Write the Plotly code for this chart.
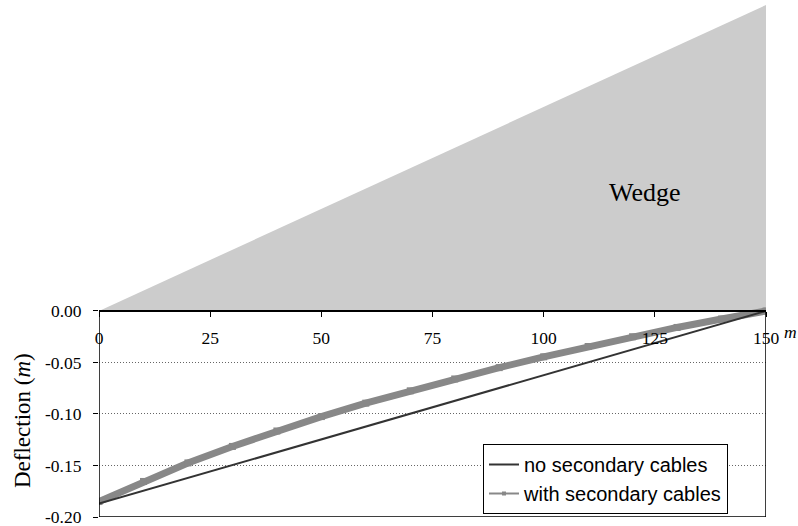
import plotly.graph_objects as go

# ---- data ----
x_no = [0, 150]
y_no = [-0.187, 0.0]

x_with = [0, 10, 20, 30, 40, 50, 60, 70, 80, 90, 100, 110, 120, 130, 140, 150]
y_with = [-0.185, -0.1655, -0.1475, -0.1315, -0.1165, -0.1025, -0.0895, -0.0775,
          -0.066, -0.055, -0.0445, -0.0345, -0.025, -0.016, -0.0078, 0.0]

wedge_x = [0, 150, 150]
wedge_y = [0.0, 0.297, 0.0]

x_ticks = [0, 25, 50, 75, 100, 125, 150]
y_ticks = [0.0, -0.05, -0.10, -0.15, -0.20]
y_ticklabels = ["0.00", "-0.05", "-0.10", "-0.15", "-0.20"]

y_min, y_max = -0.2, 0.297
serif = "Liberation Serif, Times New Roman, serif"

L, R, T, B = 99, 32, 5, 9
W, H = 798, 526
pw = W - L - R
ph = H - T - B

fig = go.Figure()

fig.add_trace(go.Scatter(x=wedge_x, y=wedge_y, fill="toself", fillcolor="#cccccc",
                         mode="lines", line=dict(width=0, color="#cccccc"),
                         showlegend=False, hoverinfo="skip"))

fig.add_trace(go.Scatter(x=x_with, y=y_with, mode="lines+markers",
                         line=dict(color="#888888", width=7),
                         marker=dict(symbol="square", size=7, color="#888888"),
                         showlegend=False))
fig.add_trace(go.Scatter(x=x_no, y=y_no, mode="lines",
                         line=dict(color="#333333", width=2),
                         name="no secondary cables"))
# legend-only entry for the thick series
fig.add_trace(go.Scatter(x=[None], y=[None], mode="lines+markers",
                         line=dict(color="#888888", width=2),
                         marker=dict(symbol="square", size=4, color="#888888"),
                         name="with secondary cables"))

# frame of the deflection panel
fig.add_shape(type="rect", x0=0, x1=150, y0=y_min, y1=0, xref="x", yref="y",
              line=dict(color="black", width=1.5), layer="above")
fig.add_shape(type="line", x0=0, x1=150, y0=0, y1=0, xref="x", yref="y",
              line=dict(color="black", width=2), layer="above")

pos0 = (0 - y_min) / (y_max - y_min)

fig.update_layout(
    width=W, height=H,
    margin=dict(l=L, r=R, t=T, b=B, autoexpand=False),
    plot_bgcolor="white", paper_bgcolor="white",
    showlegend=True,
    legend=dict(x=(483 - L) / pw, y=(517 - 444) / ph, xanchor="left", yanchor="top",
                bgcolor="white", bordercolor="black", borderwidth=1,
                font=dict(family="Liberation Sans, Arial, sans-serif", size=20, color="black"),
                tracegroupgap=0, itemwidth=30),
    xaxis=dict(range=[0, 150], tickvals=x_ticks, ticktext=[str(v) for v in x_ticks],
               anchor="free", position=pos0, side="bottom", automargin=False,
               ticks="outside", ticklen=5, tickcolor="black", tickwidth=1,
               showgrid=False, zeroline=False, showline=False,
               ticklabeloverflow="allow",
               tickfont=dict(family=serif, size=17.5, color="black"),
               ticklabelstandoff=6),
    yaxis=dict(range=[y_min, y_max], tickvals=y_ticks, ticktext=y_ticklabels,
               automargin=False, ticklabeloverflow="allow",
               ticks="outside", ticklen=5, tickcolor="black",
               showgrid=True, gridcolor="#666666", griddash="1px,2px", gridwidth=1,
               zeroline=False, showline=False,
               tickfont=dict(family=serif, size=17.5, color="black"),
               ticklabelstandoff=8),
    annotations=[
        dict(text="Deflection (<i>m</i>)", x=(22 - L) / pw, y=(517 - 421) / ph,
             xref="paper", yref="paper", showarrow=False, textangle=-90,
             xanchor="center", yanchor="middle",
             font=dict(family=serif, size=23, color="black")),
        dict(text="<i>m</i>", x=(790 - L) / pw, y=(517 - 332) / ph,
             xref="paper", yref="paper", showarrow=False,
             xanchor="center", yanchor="middle",
             font=dict(family=serif, size=17.5, color="black")),
        dict(text="Wedge", x=(645 - L) / pw, y=(517 - 192) / ph,
             xref="paper", yref="paper", showarrow=False,
             xanchor="center", yanchor="middle",
             font=dict(family=serif, size=26, color="black")),
    ],
)

fig.write_html("out.html", config={"displayModeBar": False},
               post_script="document.body.style.margin='0';document.body.style.padding='0';")
